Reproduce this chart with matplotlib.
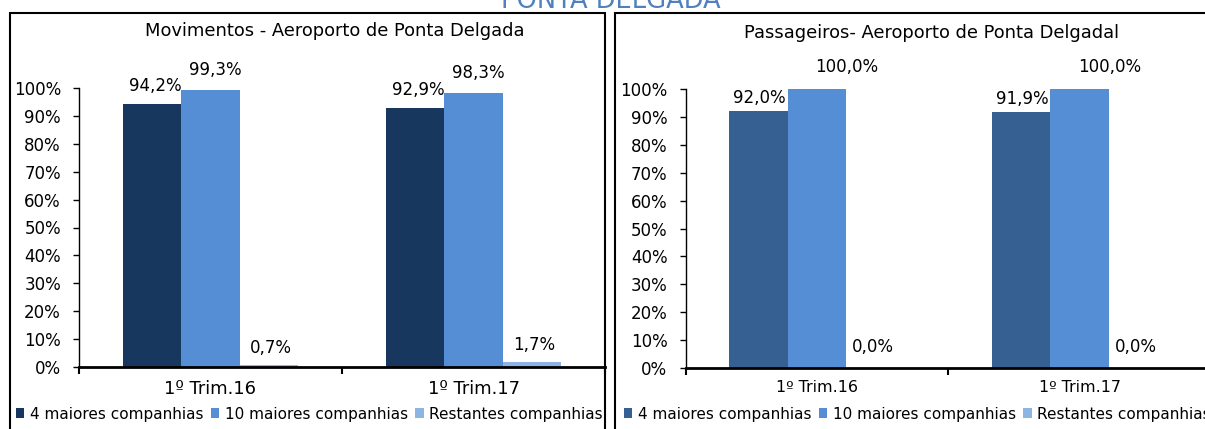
"""Ponta Delgada airport: market share of the largest airlines (moves and passengers)."""

import matplotlib
matplotlib.use("Agg")
import matplotlib.pyplot as plt
import matplotlib.ticker as mticker
from matplotlib.patches import Patch, Rectangle

# ── data ─────────────────────────────────────────────────────────────────
CATEGORIES = ["1º Trim.16", "1º Trim.17"]
SERIES = ["4 maiores companhias", "10 maiores companhias", "Restantes companhias"]

MOV_TOP4 = [94.2, 92.9]
MOV_TOP10 = [99.3, 98.3]
MOV_REST = [0.7, 1.7]

PAX_TOP4 = [92.0, 91.9]
PAX_TOP10 = [100.0, 100.0]
PAX_REST = [0.0, 0.0]

MOV_TITLE = "Movimentos - Aeroporto de Ponta Delgada"
PAX_TITLE = "Passageiros- Aeroporto de Ponta Delgadal"
SUPTITLE = "PONTA DELGADA"

# ── style ────────────────────────────────────────────────────────────────
MOV_COLORS = ["#17375E", "#558ED5", "#8EB4E3"]
PAX_COLORS = ["#376092", "#558ED5", "#8EB4E3"]
BAR_W = 0.2224

W, H = 1205, 429
PX = 72 / 100  # points per pixel at dpi 100

plt.rcParams["font.family"] = ["DejaVu Sans"]


def fx(px):
    return px / W


def fy(py):
    return 1 - py / H


def fmt(v):
    return f"{v:.1f}".replace(".", ",") + "%"


def draw_panel(ax, series_vals, colors, label_offsets, cat_size):
    n = len(series_vals)
    for i, (vals, col, off) in enumerate(zip(series_vals, colors, label_offsets)):
        xs = [c + (i - (n - 1) / 2) * BAR_W for c in range(len(CATEGORIES))]
        ax.bar(xs, vals, width=BAR_W, color=col, edgecolor="none")
        for x, v in zip(xs, vals):
            ax.annotate(fmt(v), (x, v), xytext=(off[0] * PX, off[1] * PX),
                        textcoords="offset points", ha="center", va="center",
                        fontsize=12, color="black")

    ax.set_xlim(-0.5, len(CATEGORIES) - 0.5)
    ax.set_ylim(0, 100)
    ax.set_yticks(range(0, 101, 10))
    ax.yaxis.set_major_formatter(mticker.FuncFormatter(lambda v, _: f"{v:.0f}%"))
    ax.set_xticks(range(len(CATEGORIES)))
    ax.set_xticklabels(CATEGORIES, fontsize=cat_size)
    ax.set_xticks([-0.5, 0.5, 1.5], minor=True)
    ax.tick_params(axis="x", which="major", length=0, pad=9)
    ax.tick_params(axis="x", which="minor", length=5, width=1.5, direction="out")
    ax.tick_params(axis="y", length=4, width=1, pad=9, labelsize=12)

    for side in ("top", "right"):
        ax.spines[side].set_visible(False)
    ax.spines["left"].set_linewidth(1)
    ax.spines["bottom"].set_linewidth(2)
    ax.patch.set_alpha(0)


def make_legend(fig, colors, x_px):
    handles = [Patch(facecolor=c, edgecolor="none") for c in colors]
    fig.legend(handles, SERIES, loc="center left",
               bbox_to_anchor=(fx(x_px), fy(414)), ncol=3, frameon=False,
               fontsize=11, handlelength=0.55, handleheight=0.55,
               handletextpad=0.35, columnspacing=0.5, borderaxespad=0,
               borderpad=0)


fig = plt.figure(figsize=(W / 100, H / 100), dpi=100)

# panel frames
for x0, x1 in [(10, 605), (615, 1230)]:
    fig.add_artist(Rectangle((fx(x0), fy(440)), fx(x1 - x0), (440 - 13) / H,
                             transform=fig.transFigure, fill=False,
                             edgecolor="black", linewidth=1.5))

ax_mov = fig.add_axes([fx(79), fy(367), fx(605 - 79), (367 - 88) / H])
draw_panel(ax_mov, [MOV_TOP4, MOV_TOP10, MOV_REST], MOV_COLORS,
           [(3, 18), (5, 20), (2, 17)], cat_size=12.9)

ax_pax = fig.add_axes([fx(685.5), fy(368), fx(1211 - 685.5), (368 - 89) / H])
draw_panel(ax_pax, [PAX_TOP4, PAX_TOP10, PAX_REST], PAX_COLORS,
           [(1, 13), (30, 22), (-2, 21)], cat_size=11.4)

fig.text(fx(335), fy(31), MOV_TITLE, ha="center", va="center", fontsize=12.9)
fig.text(fx(931), fy(33), PAX_TITLE, ha="center", va="center", fontsize=12.9)
fig.text(fx(611), fy(8), SUPTITLE, ha="center", va="baseline",
         fontsize=18.5, color="#4F81BD")

make_legend(fig, MOV_COLORS, 16)
make_legend(fig, PAX_COLORS, 624)

fig.savefig("out.png", dpi=100)
plt.close(fig)
